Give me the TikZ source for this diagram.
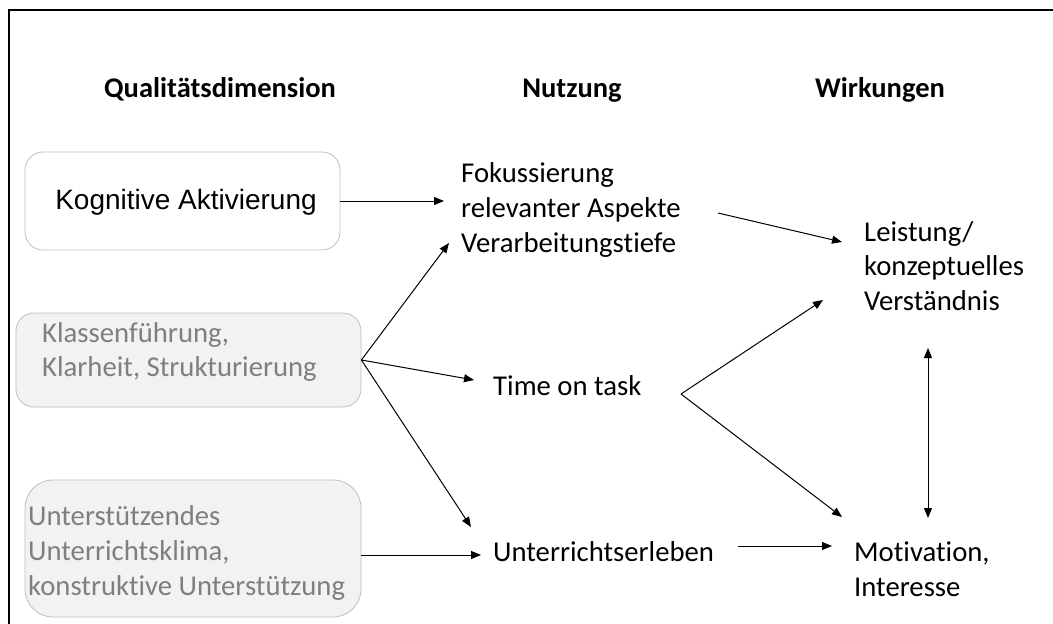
\documentclass[tikz,border=0pt]{standalone}
\usepackage{fontspec}
\setmainfont{Carlito}[Ligatures=NoCommon]
\newfontfamily\arialf{Liberation Sans}
\usetikzlibrary{arrows.meta,calc}
\definecolor{boxline}{HTML}{BFBFBF}
\definecolor{boxfill}{HTML}{F2F2F2}
\definecolor{boxtext}{HTML}{7F7F7F}
\tikzset{
  arr/.style={line width=1pt,-{Triangle[length=10pt,width=8pt]}},
  darr/.style={line width=1pt,{Triangle[length=10pt,width=8pt]}-{Triangle[length=10pt,width=8pt]}},
  qbox/.style={draw=boxline,line width=0.8pt,rounded corners=18pt,inner sep=0pt},
  body/.style={inner sep=0pt,anchor=west,align=left,font=\fontsize{28.7}{34.7}\selectfont},
  head/.style={inner sep=0pt,anchor=base,font=\fontsize{28.5}{32}\selectfont\bfseries},
}
\begin{document}
\begin{tikzpicture}[x=1pt,y=-1pt]
\useasboundingbox (0,0) rectangle (1053,624);
% frame
\draw[line width=2pt] (9,624) -- (9,10) -- (1053,10);
% headers
\node[head] (h1) at (220,97) {Qualitätsdimension};
\node[head] (h2) at (572,97) {Nutzung};
\node[head] (h3) at (880,97) {Wirkungen};
% boxes
\node[qbox,fill=white,minimum width=315pt,minimum height=98pt] (b1) at (182.5,201) {};
\node[inner sep=0pt,font=\arialf\fontsize{28}{34}\selectfont] (t1) at (186,202) {Kognitive Aktivierung};
\node[qbox,fill=boxfill,minimum width=345pt,minimum height=94pt] (b2) at (188.5,360) {};
\node[body,text=boxtext] (t2) at (42,352) {Klassenführung,\\Klarheit, Strukturierung};
\node[qbox,fill=boxfill,rounded corners=28pt,minimum width=336pt,minimum height=137pt] (b3) at (193,548.5) {};
\node[body,text=boxtext] (t3) at (28,553) {Unterstützendes\\Unterrichtsklima,\\konstruktive Unterstützung};
% middle column
\node[body] (fok) at (461,210) {Fokussierung\\relevanter Aspekte\\Verarbeitungstiefe};
\node[body] (tot) at (493,386) {Time on task};
\node[body] (ue) at (493,552) {Unterrichtserleben};
% right column
\node[body] (lei) at (864,266) {Leistung/\\konzeptuelles\\Verständnis};
\node[body] (mot) at (854,569) {Motivation,\\Interesse};
% arrows
\draw[arr] (b1.east) -- ($(fok.west|-b1.east)+(-17,0)$);
\draw[arr] (b2.east) -- ($(fok.west)+(-12,33)$);
\draw[arr] (b2.east) -- ($(tot.west)+(-19,-6)$);
\draw[arr] (b2.east) -- ($(ue.west)+(-22,-25)$);
\draw[arr] ($(b3.east)+(0,6.5)$) -- ($(ue.west)+(-12,3)$);
\draw[arr] ($(fok.west)+(257,3)$) -- ($(lei.west)+(-22,-24)$);
\draw[arr] ($(tot.west)+(188,8)$) -- ($(lei.west)+(-41,34)$);
\draw[arr] ($(tot.west)+(188,8)$) -- ($(mot.west)+(-12,-52)$);
\draw[arr] ($(ue.west)+(245,-6)$) -- ($(mot.west)+(-22,-23)$);
\draw[darr] ($(lei.west)+(64,82)$) -- ($(mot.west)+(74,-51)$);
\end{tikzpicture}
\end{document}
